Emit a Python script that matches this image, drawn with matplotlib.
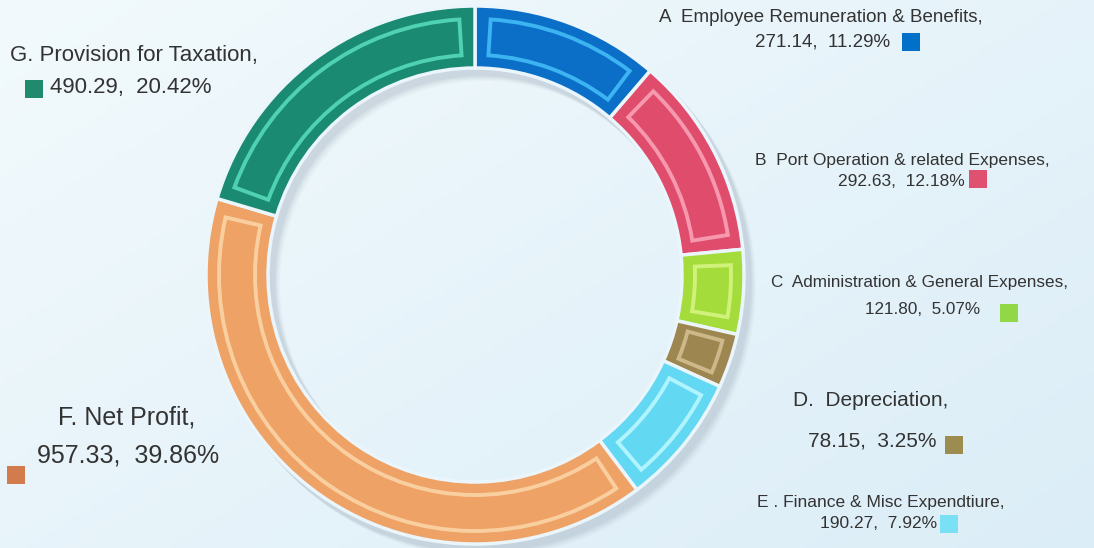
import numpy as np
import matplotlib.pyplot as plt
from matplotlib.patches import Wedge, Rectangle

# data
codes = ["A", "B", "C", "D", "E", "F", "G"]
names = ["A  Employee Remuneration & Benefits,",
         "B  Port Operation & related Expenses,",
         "C  Administration & General Expenses,",
         "D.  Depreciation,",
         "E . Finance & Misc Expendtiure,",
         "F. Net Profit,",
         "G. Provision for Taxation,"]
values = [271.14, 292.63, 121.80, 78.15, 190.27, 957.33, 490.29]
percents = [11.29, 12.18, 5.07, 3.25, 7.92, 39.86, 20.42]

ring_colors = ["#0b6fc8", "#df4c6c", "#a4dc3c", "#9e8650", "#62d8f2", "#eea266", "#1b8a72"]
line_colors = ["#3cb4f2", "#f698ae", "#d0f27a", "#cdb88a", "#b0f4ff", "#f9cfa0", "#4fd2b2"]
square_colors = ["#0070c8", "#e05070", "#92d846", "#9c8c50", "#7ae0f5", "#d27b4c", "#1f8a6e"]

W, H = 1094, 548
fig = plt.figure(figsize=(W / 100, H / 100), dpi=100)
ax = fig.add_axes([0, 0, 1, 1])

# background gradient
gx = np.linspace(0, 1, 200)
gy = np.linspace(0, 1, 100)
GX, GY = np.meshgrid(gx, gy)
c0 = np.array([0.95, 0.98, 0.99])
c1 = np.array([0.86, 0.93, 0.97])
t = np.clip(0.55 * GX + 0.45 * GY, 0, 1)[..., None]
bg = c0 * (1 - t) + c1 * t
ax.imshow(bg, extent=[0, W, 0, H], origin="upper", zorder=0, aspect="auto")

cx, cy = 475, H - 275
R, width = 269, 62

# soft shadow
for k, a in zip(range(6), [0.05, 0.05, 0.04, 0.04, 0.03, 0.03]):
    ax.add_patch(Wedge((cx + 5 + k, cy - 6 - k), R + 2, 0, 360, width=width + 4,
                       facecolor="#6a7a88", edgecolor="none", alpha=a, zorder=1))

wedges, _ = ax.pie(values, startangle=90, counterclock=False, radius=R,
                   center=(cx, cy), colors=ring_colors,
                   wedgeprops=dict(width=width, edgecolor="#eaf6fb", linewidth=2.5))
for w in wedges:
    w.set_zorder(2)
ax.set_xlim(0, W)
ax.set_ylim(0, H)
ax.set_aspect("equal")
ax.axis("off")

# inner outline decoration
for w, lc, rc in zip(wedges, line_colors, ring_colors):
    span = w.theta2 - w.theta1
    d = min(3.5, span * 0.18)
    ax.add_patch(Wedge((cx, cy), R - 13, w.theta1 + d, w.theta2 - d, width=width - 26,
                       facecolor="none", edgecolor=lc, linewidth=2.8, zorder=3))
    ax.add_patch(Wedge((cx, cy), R - 7, w.theta1 + d * 0.5, w.theta2 - d * 0.5, width=width - 14,
                       facecolor="none", edgecolor=rc, linewidth=1.5, alpha=0.6, zorder=3))

# labels: (x1, y1, x2, y2, square x, square y, size)
layout = [
    (659, 18, 755, 42, 902, 33, 13.5),
    (755, 160, 838, 181, 969, 170, 12.5),
    (771, 283, 865, 309, 1000, 304, 12.3),
    (793, 400, 808, 441, 945, 436, 15),
    (757, 502, 820, 524, 940, 515, 12.5),
    (58, 418, 37, 456, 7, 466, 18),
    (10, 55, 50, 88, 25, 80, 16),
]

for name, v, p, sc, (x1, y1, x2, y2, sx, sy, fs) in zip(names, values, percents, square_colors, layout):
    fams = ["Liberation Sans", "DejaVu Sans"]
    ax.text(x1, H - y1, name, ha="left", va="center", fontsize=fs, color="#333333",
            family=fams, zorder=5)
    ax.text(x2, H - y2, f"{v:.2f},  {p:.2f}%", ha="left", va="center", fontsize=fs,
            color="#333333", family=fams, zorder=5)
    ax.add_patch(Rectangle((sx, H - sy - 18), 18, 18, facecolor=sc, edgecolor="none", zorder=5))

fig.savefig("out.png", dpi=100)
